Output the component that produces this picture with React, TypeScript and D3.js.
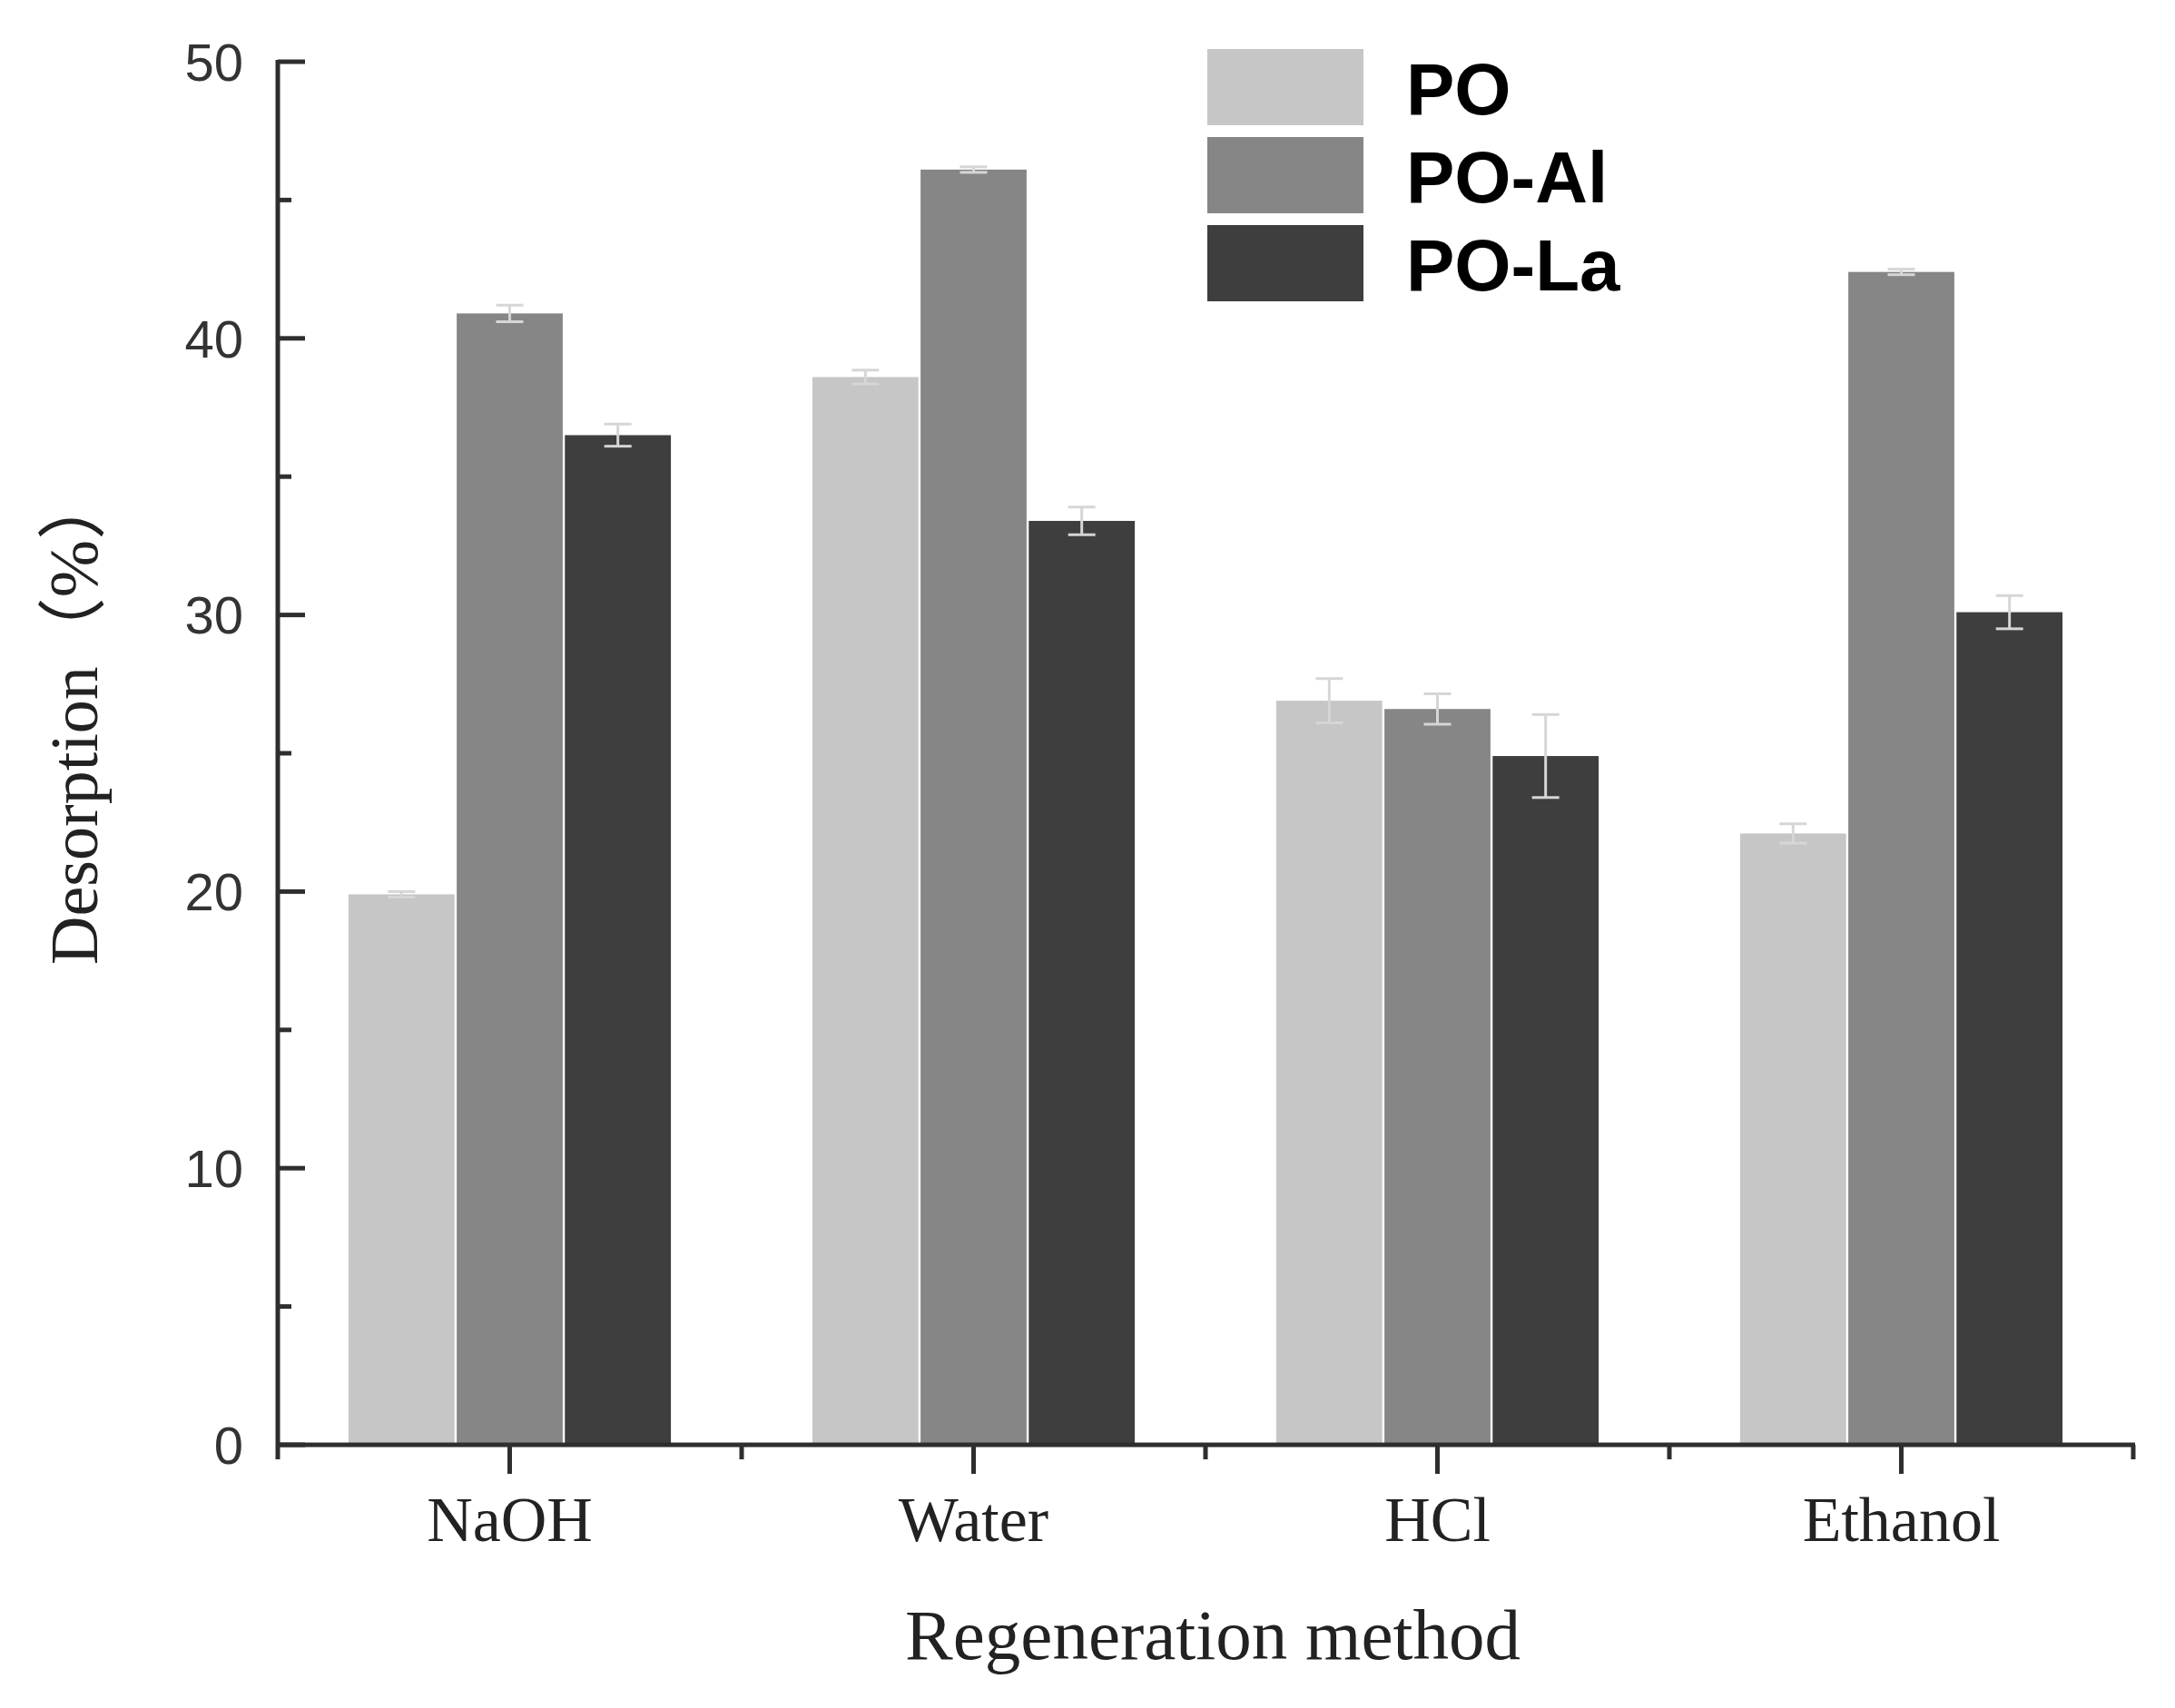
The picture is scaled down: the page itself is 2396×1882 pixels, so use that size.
import { scaleBand, scaleLinear, range } from 'd3'

const categories = ['NaOH', 'Water', 'HCl', 'Ethanol']
const seriesNames = ['PO', 'PO-Al', 'PO-La']
const seriesColors = ['#c6c6c6', '#868686', '#3e3e3e']

// desorption (%) per series, in category order
const poValues = [19.9, 38.6, 26.9, 22.1]
const poAlValues = [40.9, 46.1, 26.6, 42.4]
const poLaValues = [36.5, 33.4, 24.9, 30.1]

// error bar half-heights
const poErrors = [0.1, 0.25, 0.8, 0.35]
const poAlErrors = [0.3, 0.1, 0.55, 0.1]
const poLaErrors = [0.4, 0.5, 1.5, 0.6]

const yMajorTicks = [0, 10, 20, 30, 40, 50]
const yMinorTicks = [5, 15, 25, 35, 45]

const seriesValues = [poValues, poAlValues, poLaValues]
const seriesErrors = [poErrors, poAlErrors, poLaErrors]

const width = 2396
const height = 1882

const plot = {
  left: 306,
  right: 2350,
  top: 68,
  bottom: 1592,
}

const axisColor = '#2e2e2e'
const sansFont = '"Liberation Sans", Arial, sans-serif'
const serifFont = '"Liberation Serif", "Times New Roman", serif'

function App() {
  const xScale = scaleBand().domain(categories).range([plot.left, plot.right]).padding(0)
  const bandWidth = xScale.bandwidth()
  const groupWidth = bandWidth * 0.695

  const seriesScale = scaleBand()
    .domain(seriesNames)
    .range([(bandWidth - groupWidth) / 2, (bandWidth + groupWidth) / 2])
    .paddingInner(0.02)

  const yScale = scaleLinear().domain([0, 50]).range([plot.bottom, plot.top])

  const minorX = range(categories.length + 1)
    .slice(1)
    .map((i) => plot.left + i * bandWidth)

  return (
    <svg
      width={width}
      height={height}
      viewBox={`0 0 ${width} ${height}`}
      style={{ position: 'absolute', left: 0, top: 0, background: '#fff' }}
    >
      <rect x={0} y={0} width={width} height={height} fill="#fff" />

      {/* bars */}
      {seriesNames.map((name, si) =>
        categories.map((cat, ci) => {
          const x = (xScale(cat) ?? 0) + (seriesScale(name) ?? 0)
          const y = yScale(seriesValues[si][ci])
          return (
            <rect
              key={`${name}-${cat}`}
              x={x}
              y={y}
              width={seriesScale.bandwidth()}
              height={plot.bottom - y}
              fill={seriesColors[si]}
            />
          )
        }),
      )}

      {/* error bars */}
      {seriesNames.map((name, si) =>
        categories.map((cat, ci) => {
          const cx = (xScale(cat) ?? 0) + (seriesScale(name) ?? 0) + seriesScale.bandwidth() / 2
          const v = seriesValues[si][ci]
          const e = seriesErrors[si][ci]
          const yTop = yScale(v + e)
          const yBot = yScale(v - e)
          return (
            <g key={`err-${name}-${cat}`} stroke="#d6d6d6" strokeWidth={3}>
              <line x1={cx} x2={cx} y1={yTop} y2={yBot} />
              <line x1={cx - 15} x2={cx + 15} y1={yTop} y2={yTop} />
              <line x1={cx - 15} x2={cx + 15} y1={yBot} y2={yBot} />
            </g>
          )
        }),
      )}

      {/* y axis */}
      <line x1={plot.left} x2={plot.left} y1={plot.top - 2} y2={plot.bottom + 16} stroke={axisColor} strokeWidth={5} />
      {yMajorTicks.map((t) => (
        <line key={`ym-${t}`} x1={plot.left} x2={plot.left + 30} y1={yScale(t)} y2={yScale(t)} stroke={axisColor} strokeWidth={5} />
      ))}
      {yMinorTicks.map((t) => (
        <line key={`yn-${t}`} x1={plot.left} x2={plot.left + 15} y1={yScale(t)} y2={yScale(t)} stroke={axisColor} strokeWidth={5} />
      ))}
      {yMajorTicks.map((t) => (
        <text
          key={`yl-${t}`}
          x={plot.left - 38}
          y={yScale(t)}
          dy="0.36em"
          textAnchor="end"
          fontFamily={sansFont}
          fontSize={58}
          fill="#333"
        >
          {t}
        </text>
      ))}

      {/* x axis */}
      <line x1={plot.left - 2} x2={plot.right + 2} y1={plot.bottom} y2={plot.bottom} stroke={axisColor} strokeWidth={5} />
      {categories.map((cat) => {
        const cx = (xScale(cat) ?? 0) + bandWidth / 2
        return (
          <g key={`xt-${cat}`}>
            <line x1={cx} x2={cx} y1={plot.bottom} y2={plot.bottom + 32} stroke={axisColor} strokeWidth={5} />
            <text
              x={cx}
              y={1698}
              textAnchor="middle"
              fontFamily={serifFont}
              fontSize={70}
              fill="#222"
            >
              {cat}
            </text>
          </g>
        )
      })}
      {minorX.map((x) => (
        <line key={`xn-${x}`} x1={x} x2={x} y1={plot.bottom} y2={plot.bottom + 16} stroke={axisColor} strokeWidth={5} />
      ))}

      {/* axis titles */}
      <text
        x={(plot.left + plot.right) / 2 + 8}
        y={1828}
        textAnchor="middle"
        fontFamily={serifFont}
        fontSize={79}
        fill="#222"
      >
        Regeneration method
      </text>
      <text
        transform={`translate(107, ${1063}) rotate(-90)`}
        textAnchor="start"
        fontFamily={serifFont}
        fontSize={74}
        fill="#222"
      >
        Desorption
        <tspan fontSize={76} fontFamily={`${serifFont}, "Noto Sans CJK SC"`}>（%）</tspan>
      </text>

      {/* legend */}
      {seriesNames.map((name, i) => {
        const top = 54 + i * 97
        return (
          <g key={`lg-${name}`}>
            <rect x={1330} y={top} width={172} height={84} fill={seriesColors[i]} />
            <text x={1549} y={top + 72} fontFamily={sansFont} fontWeight="bold" fontSize={80} fill="#000">
              {name}
            </text>
          </g>
        )
      })}
    </svg>
  )
}

export default App
